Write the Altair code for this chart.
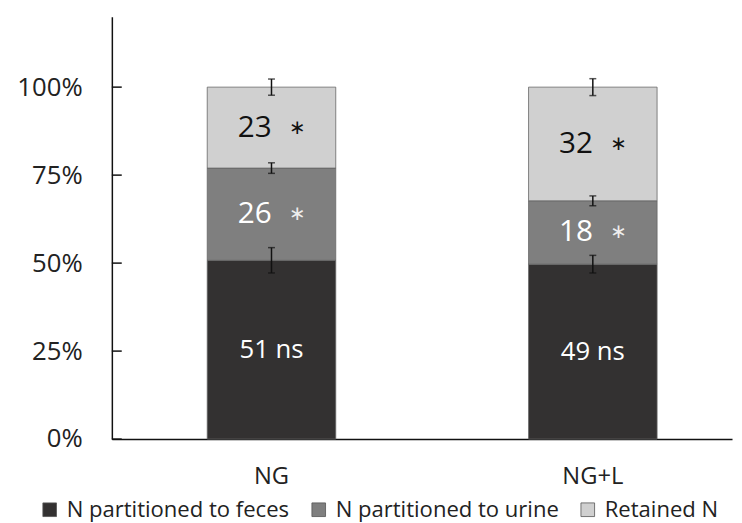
import altair as alt
import pandas as pd

groups = ["NG", "NG+L"]
components = ["N partitioned to feces", "N partitioned to urine", "Retained N"]
feces = [50.8, 49.7]
urine = [26.2, 18.0]
retained = [23.0, 32.3]
feces_err = [3.6, 2.5]
urine_err = [1.5, 1.4]
retained_err = [2.3, 2.4]
feces_lbl = ["51 ns", "49 ns"]
urine_lbl = ["26", "18"]
retained_lbl = ["23", "32"]
y_ticks = [0, 25, 50, 75, 100]
colors = ["#333131", "#7f7f7f", "#d0d0d0"]

rows = []
for i, g in enumerate(groups):
    vals = [feces[i], urine[i], retained[i]]
    errs = [feces_err[i], urine_err[i], retained_err[i]]
    lbls = [feces_lbl[i], urine_lbl[i], retained_lbl[i]]
    base = 0
    for k, c in enumerate(components):
        top = base + vals[k]
        rows.append(dict(group=g, comp=c, order=k, value=vals[k], lo=base, hi=top,
                         mid=(base + top) / 2, elo=top - errs[k], ehi=top + errs[k],
                         label=lbls[k]))
        base = top
df = pd.DataFrame(rows)
tick_df = pd.DataFrame({"t": y_ticks})

FONT = "Open Sans"
xscale = alt.Scale(domain=groups, paddingInner=0.6, paddingOuter=0.265, align=0.56)
yscale = alt.Scale(domain=[0, 120])

x = alt.X("group:N", scale=xscale, sort=groups,
          axis=alt.Axis(title=None, labelAngle=0, ticks=False, labelFontSize=24,
                        labelFont=FONT, labelColor="#222", labelPadding=26,
                        domainColor="#111", domainWidth=1.5))

bars = alt.Chart(df).mark_bar(stroke="#666", strokeWidth=0.8).encode(
    x=x,
    y=alt.Y("lo:Q", scale=yscale,
            axis=alt.Axis(title=None, values=y_ticks, labelExpr="datum.value + '%'",
                          ticks=False, grid=False, labelFontSize=26, labelFont=FONT,
                          labelColor="#222", labelPadding=30, domainColor="#111",
                          domainWidth=1.5)),
    y2="hi:Q",
    color=alt.Color("comp:N", scale=alt.Scale(domain=components, range=colors),
                    legend=alt.Legend(title=None, orient="none", direction="horizontal",
                                      legendX=-74, legendY=487, columns=3,
                                      symbolType="square", symbolSize=190,
                                      symbolStrokeColor="#555", symbolStrokeWidth=0.8,
                                      labelFontSize=22.3, labelFont=FONT,
                                      labelColor="#222", columnPadding=18,
                                      labelOffset=6, labelLimit=400)),
)

ticks = alt.Chart(tick_df).mark_rule(color="#111", strokeWidth=1.5).encode(
    x=alt.value(0), x2=alt.value(10), y=alt.Y("t:Q", scale=yscale)
)

err_rule = alt.Chart(df).mark_rule(color="#111", strokeWidth=1.5).encode(
    x=x, y=alt.Y("elo:Q", scale=yscale), y2="ehi:Q"
)
err_cap_lo = alt.Chart(df).mark_tick(color="#111", size=7, thickness=1.5).encode(
    x=x, y=alt.Y("elo:Q", scale=yscale)
)
err_cap_hi = alt.Chart(df).mark_tick(color="#111", size=7, thickness=1.5).encode(
    x=x, y=alt.Y("ehi:Q", scale=yscale)
)

fec = df[df.order == 0]
oth = df[df.order > 0]

fec_text = alt.Chart(fec).mark_text(font=FONT, fontSize=26, color="white",
                                    baseline="middle").encode(
    x=x, y=alt.Y("mid:Q", scale=yscale), text="label:N"
)
num_text = alt.Chart(oth).mark_text(font=FONT, fontSize=30, xOffset=-17,
                                    baseline="middle").encode(
    x=x, y=alt.Y("mid:Q", scale=yscale), text="label:N",
    color=alt.Color("comp:N", scale=alt.Scale(domain=components[1:], range=["white", "#111"]),
                    legend=None)
)
star_text = alt.Chart(oth).mark_text(font="DejaVu Sans", fontSize=20, xOffset=26,
                                     baseline="middle").encode(
    x=x, y=alt.Y("mid:Q", scale=yscale), text=alt.value("∗"),
    color=alt.Color("comp:N", scale=alt.Scale(domain=components[1:], range=["#eeeeee", "#111"]),
                    legend=None)
)

chart = alt.layer(bars, ticks, err_rule, err_cap_lo, err_cap_hi, fec_text, num_text,
                  star_text).resolve_scale(color="independent").properties(
    width=627, height=427,
    autosize=alt.AutoSizeParams(type="none"),
    padding={"left": 105, "top": 6, "right": 2, "bottom": 82},
    background="white",
).configure_view(stroke=None)

chart.save("out.html", embed_options={"renderer": "svg", "actions": False})
